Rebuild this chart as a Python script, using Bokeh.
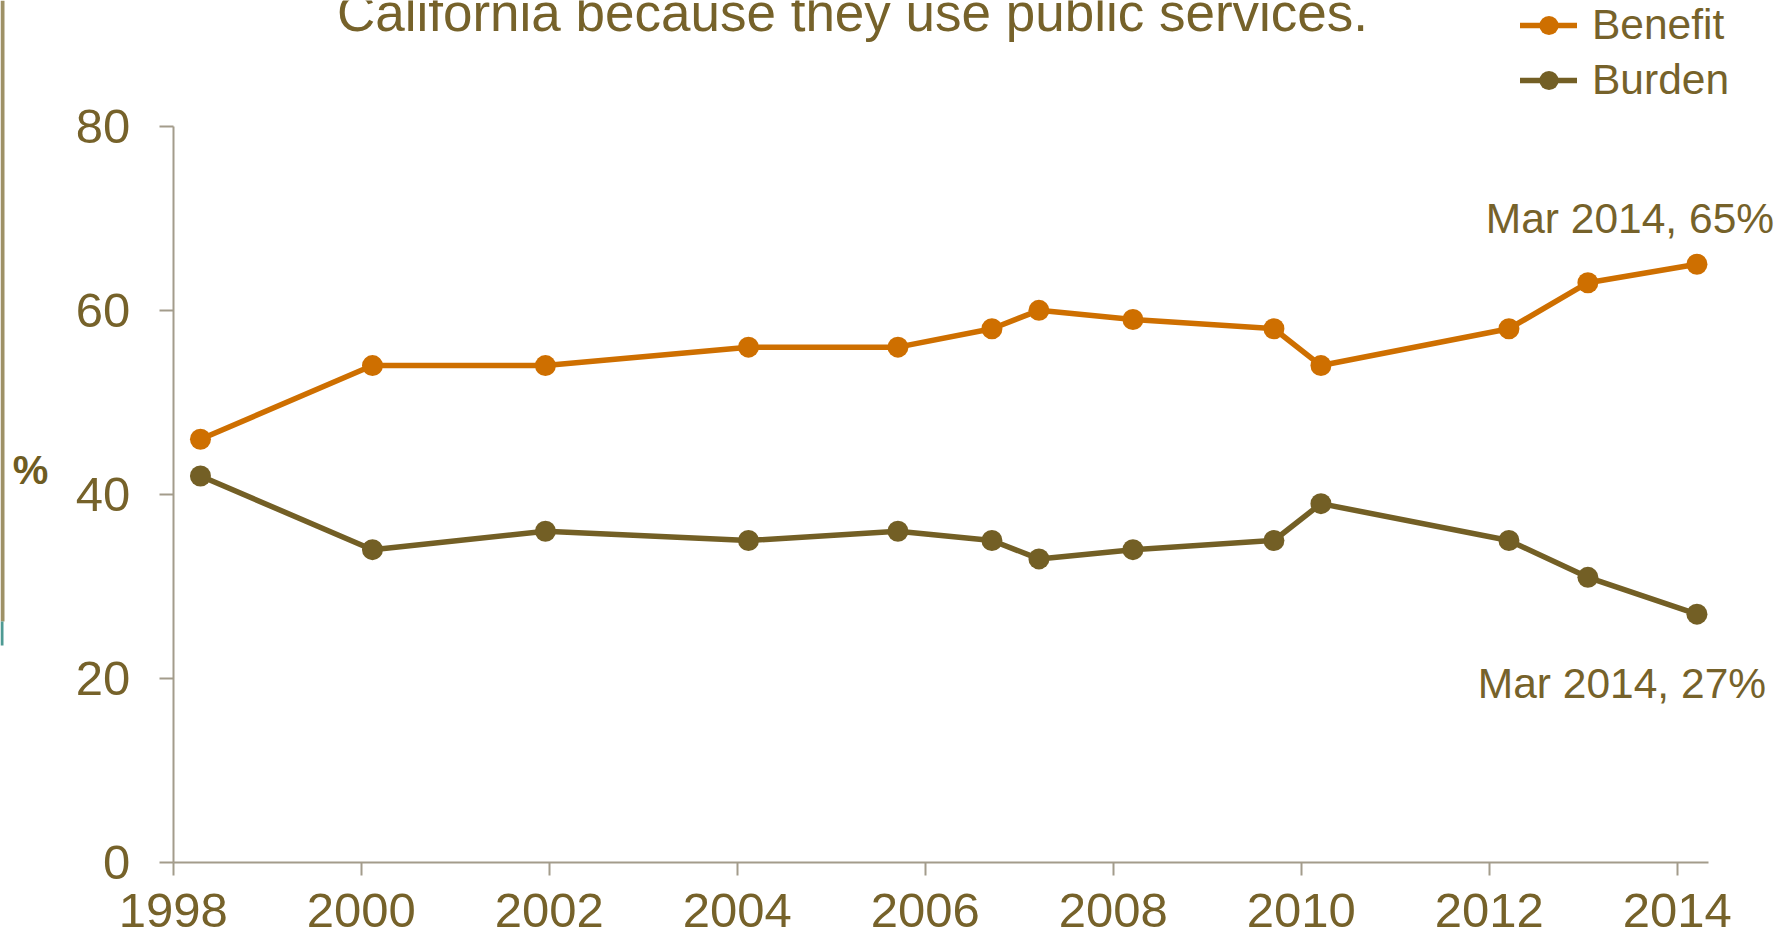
from bokeh.plotting import figure
from bokeh.models import Range1d, FixedTicker, Label, Legend, LegendItem, BoxAnnotation
from bokeh.embed import file_html
from bokeh.resources import INLINE

# ---- data ----
years = [1998.29, 2000.12, 2001.96, 2004.12, 2005.71, 2006.71, 2007.21,
         2008.21, 2009.71, 2010.21, 2012.21, 2013.05, 2014.21]
benefit = [46, 54, 54, 56, 56, 58, 60, 59, 58, 54, 58, 63, 65]
burden = [42, 34, 36, 35, 36, 35, 33, 34, 35, 39, 35, 31, 27]
series_names = ["Benefit", "Burden"]
x_ticks = [1998, 2000, 2002, 2004, 2006, 2008, 2010, 2012, 2014]
y_ticks = [0, 20, 40, 60, 80]
title_text = "California because they use public services."
end_labels = ["Mar 2014, 65%", "Mar 2014, 27%"]
y_unit = "%"

# ---- style ----
FONT = "Liberation Sans"
C_BEN = "#CE6F00"
C_BUR = "#735F25"
C_TXT = "#76622A"
C_AX = "#A39C8B"

# ---- layout: frame spans whole canvas; axes are fixed inside it ----
W, H = 1790, 939
AX_LEFT_PX, PX_PER_YEAR = 172.7, 94.0      # pixel of x=1998, px per year
AX_BOTTOM_PX, AX_TOP_PX = 862.2, 125.7     # pixel of y=0 and y=80
X_AXIS_END = 2014.33
ppu = (AX_BOTTOM_PX - AX_TOP_PX) / (y_ticks[-1] - y_ticks[0])
x_start = x_ticks[0] - AX_LEFT_PX / PX_PER_YEAR
x_end = x_ticks[0] + (W - AX_LEFT_PX) / PX_PER_YEAR
y_start = y_ticks[0] - (H - AX_BOTTOM_PX) / ppu
y_end = y_ticks[-1] + AX_TOP_PX / ppu

p = figure(width=W, height=H, output_backend="svg", toolbar_location=None,
           x_range=Range1d(x_start, x_end), y_range=Range1d(y_start, y_end),
           min_border=0, min_border_left=0, min_border_right=0,
           min_border_top=0, min_border_bottom=0)
if p.title is not None:
    p.title.visible = False
p.background_fill_color = "white"
p.border_fill_color = "white"
p.outline_line_color = None
p.xgrid.visible = False
p.ygrid.visible = False

for ax in (p.xaxis[0], p.yaxis[0]):
    ax.axis_line_color = C_AX
    ax.axis_line_width = 2
    ax.major_tick_line_color = C_AX
    ax.major_tick_line_width = 2
    ax.major_tick_in = 0
    ax.minor_tick_line_color = None
    ax.major_label_text_color = C_TXT
    ax.major_label_text_font = FONT
    ax.major_label_text_font_size = "49px"

p.xaxis.ticker = FixedTicker(ticks=x_ticks)
p.yaxis.ticker = FixedTicker(ticks=y_ticks)
p.xaxis.fixed_location = y_ticks[0]
p.xaxis.bounds = (x_ticks[0], X_AXIS_END)
p.yaxis.fixed_location = x_ticks[0]
p.yaxis.bounds = (y_ticks[0], y_ticks[-1])
p.xaxis.major_tick_out = 13
p.xaxis.major_label_standoff = 18
p.yaxis.major_tick_out = 14
p.yaxis.major_label_standoff = 29

r1 = p.line(years, benefit, line_color=C_BEN, line_width=5.5,
            line_cap="round", line_join="round")
s1 = p.scatter(years, benefit, size=21, fill_color=C_BEN, line_color=None)
r2 = p.line(years, burden, line_color=C_BUR, line_width=5.5,
            line_cap="round", line_join="round")
s2 = p.scatter(years, burden, size=21, fill_color=C_BUR, line_color=None)

legend = Legend(items=[LegendItem(label=series_names[0], renderers=[r1, s1]),
                       LegendItem(label=series_names[1], renderers=[r2, s2])],
                location=(1520, H - 104), orientation="vertical",
                border_line_color=None, background_fill_alpha=0,
                padding=0, margin=0, spacing=7,
                glyph_width=57, glyph_height=48, label_height=48,
                label_standoff=15, label_text_font=FONT,
                label_text_font_size="42.5px", label_text_color=C_TXT)
p.add_layout(legend)

# end-point annotations
p.add_layout(Label(x=years[-1], y=benefit[-1], x_offset=-67, y_offset=46,
                   text=end_labels[0], text_align="center", text_baseline="alphabetic",
                   text_font=FONT, text_font_size="42.5px", text_color=C_TXT))
p.add_layout(Label(x=years[-1], y=burden[-1], x_offset=-75, y_offset=-69,
                   text=end_labels[1], text_align="center", text_baseline="alphabetic",
                   text_font=FONT, text_font_size="42.5px", text_color=C_TXT))

# title (its first line lies above the picture in the reference)
p.add_layout(Label(x=852, y=H - 31 + 19, x_units="screen", y_units="screen",
                   text=title_text, text_align="center", text_baseline="alphabetic",
                   text_font=FONT, text_font_size="53px", text_color=C_TXT))

# y unit label
p.add_layout(Label(x=30, y=H - 483 + 14, x_units="screen", y_units="screen",
                   text=y_unit, text_align="center", text_baseline="alphabetic",
                   text_font=FONT, text_font_size="40px", text_font_style="bold",
                   text_color="#6E5C22"))

# left edge decoration
p.add_layout(BoxAnnotation(left=0, right=4, top=H, bottom=H - 621,
                           left_units="screen", right_units="screen",
                           top_units="screen", bottom_units="screen",
                           fill_color="#9E9166", fill_alpha=1, line_color=None))
p.add_layout(BoxAnnotation(left=0, right=3, top=H - 621, bottom=H - 645,
                           left_units="screen", right_units="screen",
                           top_units="screen", bottom_units="screen",
                           fill_color="#4E9A93", fill_alpha=1, line_color=None))

open("out.html", "w").write(file_html(p, INLINE))
